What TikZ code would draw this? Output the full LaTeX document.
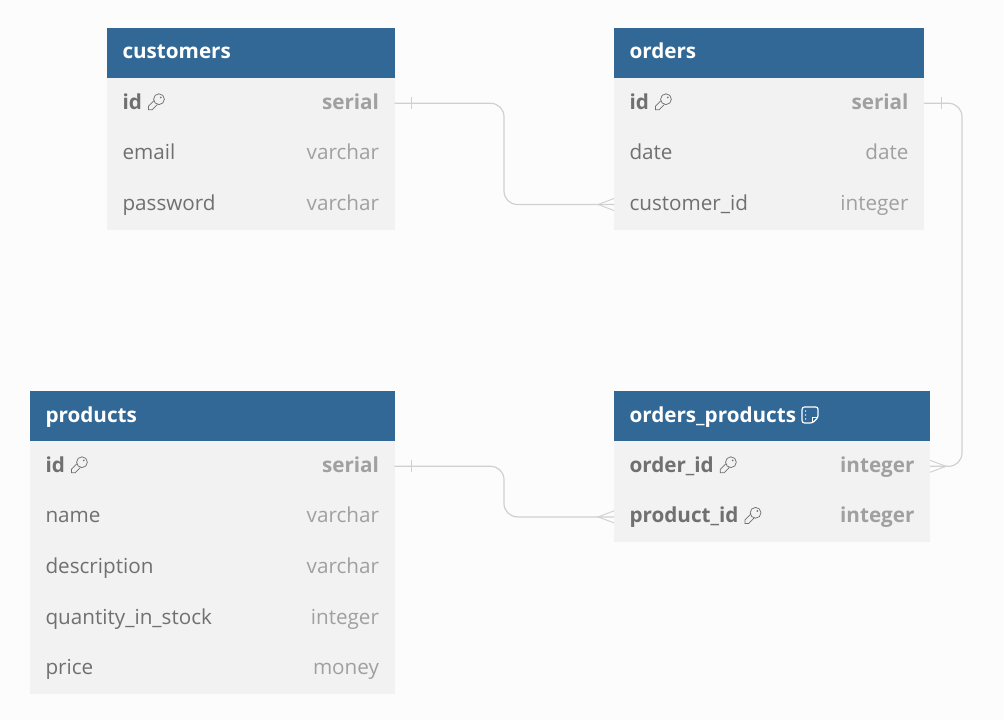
\documentclass[tikz,border=0pt]{standalone}
\usepackage{xcolor}
\usepackage{fontspec}
\setmainfont{Open Sans}
\usetikzlibrary{positioning,calc}
\definecolor{erBg}    {RGB}{252,252,252}
\definecolor{erHead}  {RGB}{ 49,104,150}
\definecolor{erBody}  {RGB}{242,242,242}
\definecolor{erName}  {RGB}{112,112,112}
\definecolor{erType}  {RGB}{160,160,160}
\definecolor{erLine}  {RGB}{208,208,208}
% one table row: node prefix, left x, centre y, width, name, type
\newcommand{\erRow}[7][]{%
  \node[rowbox,minimum width=#5*0.75pt] (#2) at (#3,#4) {};
  \node[rowname,#1] (#2n) at ([shift={(15.5,6)}]#2.west) {#6};
  \node[rowtype,#1] (#2t) at ([shift={(-15.5,6)}]#2.east) {#7};
}
\newcommand{\erHead}[5]{%
  \node[headbox,minimum width=#4*0.75pt] (#1) at (#2,#3) {};
  \node[headname] (#1n) at ([shift={(15.5,6)}]#1.west) {#5};
}
\begin{document}
\begin{tikzpicture}[
  x=0.75pt,y=-0.75pt,
  every node/.style={font=\fontsize{15.5}{18}\selectfont,inner sep=0pt,outer sep=0pt},
  rowbox/.style={fill=erBody,minimum height=50.6*0.75pt,anchor=west},
  headbox/.style={fill=erHead,minimum height=50.4*0.75pt,anchor=west},
  headname/.style={anchor=base west,text=white,font=\fontsize{15.5}{18}\selectfont\bfseries},
  rowname/.style={anchor=base west,text=erName},
  rowtype/.style={anchor=base east,text=erType},
  pk/.style={font=\fontsize{15.5}{18}\selectfont\bfseries},
  conn/.style={draw=erLine,line width=0.9pt,rounded corners=10pt},
  tick/.style={draw=erLine,line width=0.7pt},
  keyicon/.pic={
    \draw[erName,line width=0.55pt] (2.6,-2.6) circle[radius=5.4];
    \draw[erName,line width=0.55pt] (-2.5,-1) -- (-8,4.5) -- (-8,8) -- (-4.2,8) -- (1,2.6);
    \fill[erName] (4.4,-4.4) circle[radius=0.9];
  },
  noteicon/.pic={
    \draw[white,line width=0.9pt,rounded corners=1.8pt] (-8,-8) -- (8,-8) -- (8,2.5) -- (2.5,8) -- (-8,8) -- cycle;
    \draw[white,line width=0.9pt] (8,2.5) -- (2.5,2.5) -- (2.5,8);
    \foreach \noteY in {-4,0,4}
      \fill[white] (-4.5,\noteY) circle[radius=0.8];
  }
]
\useasboundingbox[fill=erBg] (0,0) rectangle (1004,720);

% customers
\erHead{cust}{107}{53}{287.5}{customers}
\erRow[pk]{custA}{107}{103.3}{287.5}{id}{serial}
\erRow{custB}{107}{153.9}{287.5}{email}{varchar}
\erRow{custC}{107}{204.5}{287.5}{password}{varchar}
\pic at ([shift={(14.5,-7.5)}]custAn.base east) {keyicon};

% orders
\erHead{ord}{614}{53}{310}{orders}
\erRow[pk]{ordA}{614}{103.3}{310}{id}{serial}
\erRow{ordB}{614}{153.9}{310}{date}{date}
\erRow{ordC}{614}{204.5}{310}{customer\_id}{integer}
\pic at ([shift={(14.5,-7.5)}]ordAn.base east) {keyicon};

% products
\erHead{prod}{30}{416}{364.5}{products}
\erRow[pk]{prodA}{30}{466.3}{364.5}{id}{serial}
\erRow{prodB}{30}{516.9}{364.5}{name}{varchar}
\erRow{prodC}{30}{567.5}{364.5}{description}{varchar}
\erRow{prodD}{30}{618.1}{364.5}{quantity\_in\_stock}{integer}
\erRow{prodE}{30}{668.7}{364.5}{price}{money}
\pic at ([shift={(14.5,-7.5)}]prodAn.base east) {keyicon};

% orders_products
\erHead{link}{614}{416}{316}{orders\_products}
\erRow[pk]{linkA}{614}{466.3}{316}{order\_id}{integer}
\erRow[pk]{linkB}{614}{516.9}{316}{product\_id}{integer}
\pic at ([shift={(14.5,-7.5)}]linkAn.base east) {keyicon};
\pic at ([shift={(14.5,-7.5)}]linkBn.base east) {keyicon};
\pic at ([shift={(14,-7)}]linkn.base east) {noteicon};

% connectors
\draw[conn] (custA.east) -- (504,103.3) -- (504,204.5) -- (ordC.west);
\draw[conn] (prodA.east) -- (504,466.3) -- (504,516.9) -- (linkB.west);
\draw[conn] (ordA.east) -- (962,103.3) -- (962,466.3) -- (linkA.east);

% end marks
\draw[tick] ([shift={(17,-6)}]custA.east) -- ++(0,12);
\draw[tick] ([shift={(17,-6)}]prodA.east) -- ++(0,12);
\draw[tick] ([shift={(17,-6)}]ordA.east) -- ++(0,12);
\draw[tick] ([yshift=4.5pt]ordC.west) -- ++(-16,6) -- ([yshift=-4.5pt]ordC.west);
\draw[tick] ([yshift=4.5pt]linkB.west) -- ++(-16,6) -- ([yshift=-4.5pt]linkB.west);
\draw[tick] ([yshift=4.5pt]linkA.east) -- ++(16,6) -- ([yshift=-4.5pt]linkA.east);
\end{tikzpicture}
\end{document}
